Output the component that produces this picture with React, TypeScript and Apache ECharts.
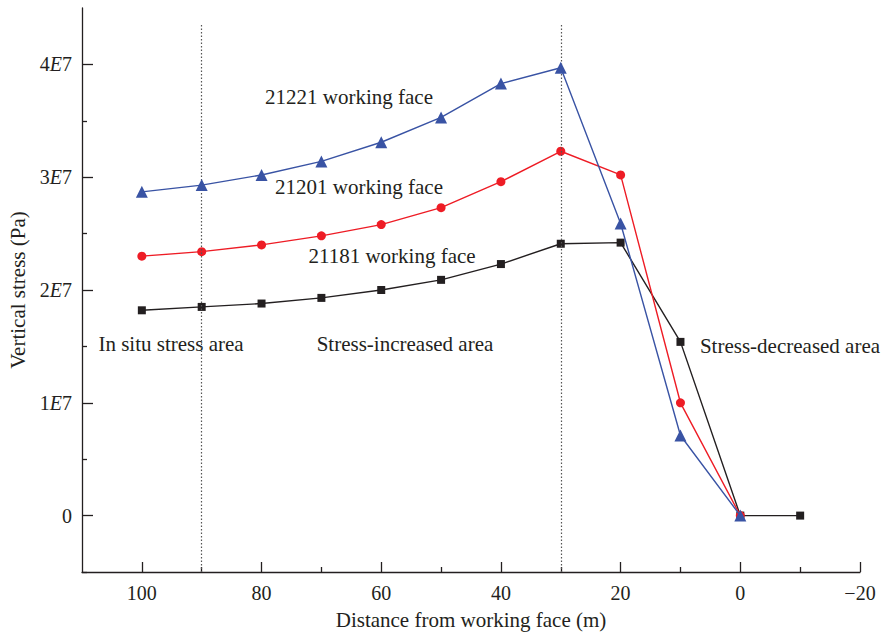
import React, { useEffect, useRef } from "react";
import * as echarts from "echarts";

// Distance from the working face (m)
const distances = [100, 90, 80, 70, 60, 50, 40, 30, 20, 10, 0];
const distances21181 = [100, 90, 80, 70, 60, 50, 40, 30, 20, 10, 0, -10];

// Vertical stress (Pa) per working face
const stress21221 = [2.87e7, 2.93e7, 3.02e7, 3.14e7, 3.31e7, 3.53e7, 3.83e7, 3.97e7, 2.59e7, 0.71e7, 0];
const stress21201 = [2.30e7, 2.34e7, 2.40e7, 2.48e7, 2.58e7, 2.73e7, 2.96e7, 3.23e7, 3.02e7, 1.0e7, 0];
const stress21181 = [1.82e7, 1.85e7, 1.88e7, 1.93e7, 2.0e7, 2.09e7, 2.23e7, 2.41e7, 2.42e7, 1.54e7, 0, 0];

// Axis ticks
const xMajorTicks = [100, 80, 60, 40, 20, 0, -20];
const xMinorTicks = [90, 70, 50, 30, 10, -10];
const yMajorTicks = [0, 1e7, 2e7, 3e7, 4e7];
const yMinorTicks = [-0.5e7, 0.5e7, 1.5e7, 2.5e7, 3.5e7];

// Zone boundaries (m) and the stress span their dotted lines cover
const zoneBoundaries = [90, 30];
const boundarySpan = [-0.5e7, 4.35e7];

const FONT = "'Liberation Serif', 'DejaVu Serif', serif";
const INK = "#231f20";
const TEXT_SIZE = 21;
const TICK_SIZE = 20;

function zip(xs: number[], ys: number[]) {
  return xs.map((x, i) => [x, ys[i]]);
}

export default function App() {
  const ref = useRef<HTMLDivElement>(null);

  useEffect(() => {
    if (!ref.current) return;
    const chart = echarts.init(ref.current, undefined, { renderer: "svg" });

    const note = (text: string, x: number, y: number) => ({
      type: "text",
      x,
      y,
      style: {
        text,
        fontFamily: FONT,
        fontSize: TEXT_SIZE,
        fill: INK,
        textAlign: "center",
        textVerticalAlign: "middle",
      },
    });

    const tickLine = { color: INK, width: 1.3 };

    chart.setOption({
      animation: false,
      backgroundColor: "#ffffff",
      grid: { left: 82, top: 8, width: 778, height: 564, containLabel: false, outerBoundsMode: "none" },
      xAxis: [
        {
          type: "value",
          inverse: true,
          min: -20,
          max: 110,
          name: "Distance from working face (m)",
          nameLocation: "middle",
          nameGap: 37,
          nameTextStyle: { fontFamily: FONT, fontSize: TEXT_SIZE, color: INK },
          axisLine: { show: true, onZero: false, lineStyle: tickLine },
          axisTick: { show: true, inside: true, length: 10, customValues: xMajorTicks, lineStyle: tickLine },
          axisLabel: {
            customValues: xMajorTicks,
            fontFamily: FONT,
            fontSize: TICK_SIZE,
            color: INK,
            margin: 11,
            formatter: (v: number) => (v < 0 ? "\u2212" + Math.abs(v) : String(v)),
          },
          splitLine: { show: false },
        },
        {
          type: "value",
          inverse: true,
          min: -20,
          max: 110,
          position: "bottom",
          axisLine: { show: false, onZero: false },
          axisTick: { show: true, inside: true, length: 5, customValues: xMinorTicks, lineStyle: tickLine },
          axisLabel: { show: false },
          splitLine: { show: false },
        },
      ],
      yAxis: [
        {
          type: "value",
          min: -0.5e7,
          max: 4.5e7,
          name: "Vertical stress (Pa)",
          nameLocation: "middle",
          nameGap: 54,
          nameTextStyle: { fontFamily: FONT, fontSize: TEXT_SIZE, color: INK },
          axisLine: { show: true, onZero: false, lineStyle: tickLine },
          axisTick: { show: true, inside: true, length: 11, customValues: yMajorTicks, lineStyle: tickLine },
          axisLabel: {
            customValues: yMajorTicks,
            margin: 10,
            color: INK,
            fontFamily: FONT,
            fontSize: TICK_SIZE,
            formatter: (v: number) => (v === 0 ? "{n|0}" : `{n|${Math.round(v / 1e7)}}{e|E}{n|7}`),
            rich: {
              n: { fontFamily: FONT, fontSize: TICK_SIZE, color: INK },
              e: { fontFamily: FONT, fontSize: TICK_SIZE, color: INK, fontStyle: "italic" },
            },
          },
          splitLine: { show: false },
        },
        {
          type: "value",
          min: -0.5e7,
          max: 4.5e7,
          position: "left",
          axisLine: { show: false, onZero: false },
          axisTick: { show: true, inside: true, length: 5, customValues: yMinorTicks, lineStyle: tickLine },
          axisLabel: { show: false },
          splitLine: { show: false },
        },
      ],
      series: [
        {
          name: "21181 working face",
          type: "line",
          data: zip(distances21181, stress21181),
          symbol: "rect",
          symbolSize: 8,
          lineStyle: { color: INK, width: 1.4 },
          itemStyle: { color: INK },
          z: 3,
          markLine: {
            silent: true,
            symbol: "none",
            label: { show: false },
            lineStyle: { color: "#555", type: [1.5, 2], width: 1.2 },
            data: zoneBoundaries.map((d) => [
              { coord: [d, boundarySpan[1]] },
              { coord: [d, boundarySpan[0]] },
            ]),
          },
        },
        {
          name: "21201 working face",
          type: "line",
          data: zip(distances, stress21201),
          symbol: "circle",
          symbolSize: 9,
          lineStyle: { color: "#ee1c25", width: 1.4 },
          itemStyle: { color: "#ee1c25" },
          z: 4,
        },
        {
          name: "21221 working face",
          type: "line",
          data: zip(distances, stress21221),
          symbol: "triangle",
          symbolSize: 12,
          lineStyle: { color: "#3953a4", width: 1.4 },
          itemStyle: { color: "#3953a4" },
          z: 5,
        },
      ],
      graphic: [
        note("21221 working face", 349, 97),
        note("21201 working face", 359, 187),
        note("21181 working face", 392, 256),
        note("In situ stress area", 171, 344),
        note("Stress-increased area", 405, 344),
        note("Stress-decreased area", 790, 346),
      ],
    });

    return () => chart.dispose();
  }, []);

  return (
    <div
      ref={ref}
      style={{ position: "absolute", left: 0, top: 0, width: 882, height: 633, background: "#fff" }}
    />
  );
}
